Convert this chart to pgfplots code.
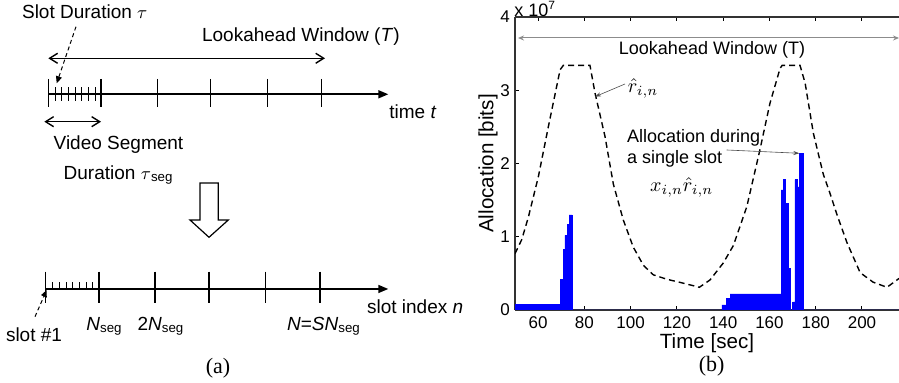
\documentclass[border=0pt]{standalone}
\usepackage{pgfplots}
\pgfplotsset{compat=1.18}
\usetikzlibrary{arrows.meta}
\usepackage{fontspec}
\setmainfont{Liberation Sans}
\newfontfamily\serifont{Liberation Serif}
\begin{document}
\begin{tikzpicture}[x=0.5pt,y=0.5pt]
\useasboundingbox (0,0) rectangle (899,383);
% ---------------- (a) diagram ----------------
\begin{scope}[font=\fontsize{9.5}{11}\selectfont]
\node[anchor=west,inner sep=0] at (21.7,371.3) {Slot Duration $\tau$};
\draw[line width=0.5pt,dash pattern=on 2pt off 1.5pt,-{Triangle[length=3.5pt,width=3pt]}] (76,356.3) -- (56.7,299.7);
\node[anchor=west,inner sep=0] at (201.7,346.3) {Lookahead Window (\textit{T})};
\draw[line width=0.7pt,{Straight Barb[length=4pt,width=5pt]}-{Straight Barb[length=4pt,width=5pt]}] (48.3,324.7) -- (325,324.7);
\draw[line width=0.8pt,-{Triangle[length=5pt,width=4pt]}] (48,288.7) -- (388.3,288.7);
\foreach \xx in {48.3,101,157.3,210.7,267.3,321.7} \draw[line width=0.6pt] (\xx,304) -- (\xx,275.7);
\foreach \xx in {55,61.7,68.3,75,81.7,88.3,95} \draw[line width=0.5pt] (\xx,295.7) -- (\xx,282.3);
\node[anchor=west,inner sep=0] at (389,271.3) {time \textit{t}};
\draw[line width=0.7pt,{Straight Barb[length=4pt,width=5pt]}-{Straight Barb[length=4pt,width=5pt]}] (44.3,261.3) -- (101,261.3);
\node[anchor=west,inner sep=0] at (53.3,238) {Video Segment};
\node[anchor=west,inner sep=0] at (63.3,208) {Duration $\tau$\textsubscript{seg}};
\draw[line width=0.6pt] (200,200) -- (218.3,200) -- (218.3,163) -- (228.3,163) -- (209,145.7) -- (190,163) -- (200,163) -- cycle;
\draw[line width=0.8pt,-{Triangle[length=5pt,width=4pt]}] (45.7,94) -- (388.3,94);
\foreach \xx in {45.7,99,155,209,265.7,320} \draw[line width=0.6pt] (\xx,111.3) -- (\xx,79.7);
\foreach \xx in {52.7,59.3,66,72.7,79.3,86,92.7} \draw[line width=0.5pt] (\xx,94) -- (\xx,101.3);
\node[anchor=west,inner sep=0] at (366.7,76.3) {slot index \textit{n}};
\draw[line width=0.5pt,dash pattern=on 2pt off 1.5pt,-{Triangle[length=3.5pt,width=3pt]}] (35,66.3) -- (46.7,93);
\node[inner sep=0] at (34,48) {slot \#1};
\node[inner sep=0] at (104.5,56.3) {\textit{N}\textsubscript{seg}};
\node[inner sep=0] at (161,56.3) {2\textit{N}\textsubscript{seg}};
\node[inner sep=0] at (324,56.3) {\textit{N}=\textit{SN}\textsubscript{seg}};
\node[inner sep=0,font=\serifont\fontsize{11}{13}\selectfont] at (218,15) {(a)};
\end{scope}
% ---------------- (b) plot ----------------
\begin{axis}[
  at={(257.5pt,36.5pt)}, anchor=south west, scale only axis,
  width=192pt, height=146.5pt,
  xmin=50, xmax=216, ymin=0, ymax=4,
  xtick={60,80,...,200}, ytick={0,1,2,3,4},
  axis x line*=box, axis y line*=left,
  axis line style={-, line width=0.6pt, black!80},
  every outer x axis line/.append style={-},
  every outer y axis line/.append style={-},
  tick align=inside, major tick length=2pt,
  tick style={line width=0.5pt, black},
  /pgf/number format/assume math mode=true,
  tick label style={font=\fontsize{8.5}{10}\selectfont},
  yticklabel style={xshift=1pt},
  label style={font=\fontsize{10.3}{12}\selectfont},
  xlabel={Time [sec]},
  ylabel={Allocation [bits]},
  xlabel style={yshift=4.5pt},
  ylabel style={yshift=-5.5pt},
]
\addplot[const plot, fill=blue, draw=blue, line width=0.2pt] coordinates {
(50,0.08) (69.5,0.42) (70.8,0.83) (71.6,1.02) (72.6,1.17) (73.4,1.30) (74.7,0)
(139.4,0.07) (141.5,0.16) (143,0.22) (165,1.64) (166,1.78) (167,1.46) (168,0.57)
(169.1,0) (170,0.11) (171,1.78) (171.8,1.68) (172.8,2.14) (174.4,0) (216,0)
} \closedcycle;
\addplot[black, line width=0.7pt, dash pattern=on 3pt off 2pt] coordinates {
(50,0.77) (52.9,0.96) (55.8,1.27) (60.1,1.82) (64.4,2.50) (69.5,3.28) (70.9,3.34)
(82.4,3.34) (84.6,2.96) (88.9,2.37) (92.5,1.72) (96.8,1.23) (101.1,0.86) (105.5,0.61)
(109.8,0.48) (115.6,0.42) (124.2,0.355) (129.7,0.31) (134.3,0.41) (140,0.64)
(144.4,0.88) (150.2,1.41) (155.9,2.19) (160.2,2.82) (164.6,3.30) (165.5,3.34)
(173.2,3.34) (175.4,3.10) (179,2.41) (183.3,1.85) (186.2,1.59) (189.2,1.30)
(193.5,0.92) (199.2,0.51) (204.8,0.38) (210.8,0.31) (216,0.43)
};
\end{axis}
\node[anchor=west,inner sep=0,font=\fontsize{9}{10}\selectfont] at (514,374) {x 10\textsuperscript{7}};
\draw[line width=0.5pt,black!45,{Stealth[length=3pt,width=2.5pt]}-{Stealth[length=3pt,width=2.5pt]}] (518,345) -- (899,345);
\node[inner sep=0,font=\fontsize{9}{11}\selectfont] at (712,333) {Lookahead Window (T)};
\node[inner sep=0,font=\fontsize{10}{12}\selectfont] at (643,295) {$\hat{r}_{i,n}$};
\draw[line width=0.3pt,black!70,-{Stealth[length=3pt,width=2pt]}] (625,299) -- (595,286.3);
\begin{scope}[font=\fontsize{9}{11}\selectfont]
\node[anchor=west,inner sep=0] at (626.7,245) {Allocation during};
\node[anchor=west,inner sep=0] at (626.7,224) {a single slot};
\node[inner sep=0,font=\fontsize{10}{12}\selectfont] at (681.7,196) {$x_{i,n}\hat{r}_{i,n}$};
\end{scope}
\draw[line width=0.3pt,black!70,-{Stealth[length=3pt,width=2pt]}] (726.7,233) -- (799.3,229.7);
\node[inner sep=0,font=\serifont\fontsize{11}{13}\selectfont] at (711.7,16.3) {(b)};
\end{tikzpicture}
\end{document}
